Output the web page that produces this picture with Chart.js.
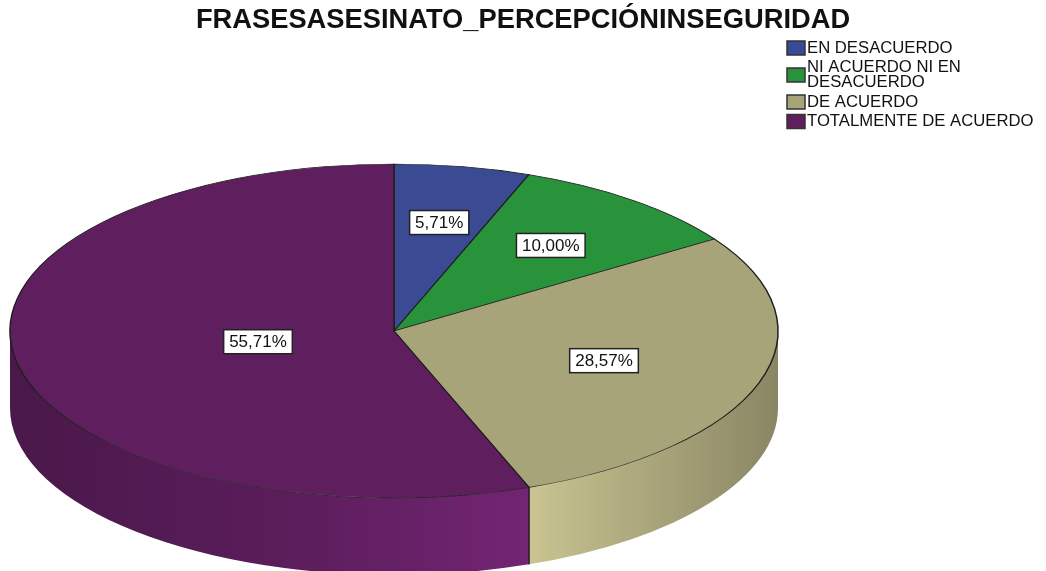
<!DOCTYPE html>
<html>
<head>
<meta charset="utf-8">
<script src="https://cdn.jsdelivr.net/npm/chart.js@4/dist/chart.umd.min.js"></script>
<style>
  html, body { margin: 0; padding: 0; background: #fff; }
  #wrap { width: 1046px; height: 571px; }
</style>
</head>
<body>
<div id="wrap"><canvas id="chart" width="1046" height="571"></canvas></div>
<script>
const TITLE = "FRASESASESINATO_PERCEPCIÓNINSEGURIDAD";
const CATEGORIES = ["EN DESACUERDO", "NI ACUERDO NI EN DESACUERDO", "DE ACUERDO", "TOTALMENTE DE ACUERDO"];
const PERCENTS = [5.71, 10.00, 28.57, 55.71];
const COLORS = ["#3a4b93", "#28933a", "#a8a47a", "#5f1f5f"];

// pie look: ellipse centre, squash, thickness, where labels sit (share of radius)
const PIE = { cx: 394, cy: 331, ry: 167, depth: 77, labelAt: [0.66, 0.655, 0.575, 0.36] };
const FONT = '"Liberation Sans", Arial, sans-serif';

function shade(hex, f) {
  const n = parseInt(hex.slice(1), 16);
  const c = [n >> 16, (n >> 8) & 255, n & 255].map(v => Math.max(0, Math.min(255, Math.round(v * f))));
  return `rgb(${c.join(",")})`;
}

// draws the side wall, squashes the top face, then puts the % boxes on
const pie3d = {
  id: "pie3d",
  beforeDatasetsDraw(chart) {
    const ctx = chart.ctx;
    const arcs = chart.getDatasetMeta(0).data;
    const R = arcs[0].outerRadius;
    const { cx, cy, ry, depth } = PIE;

    arcs.forEach((arc, i) => {
      const s = Math.max(arc.startAngle, 0);
      const e = Math.min(arc.endAngle, Math.PI);
      if (e <= s) return;
      const g = ctx.createLinearGradient(cx - R, 0, cx + R, 0);
      g.addColorStop(0, shade(COLORS[i], 0.78));
      g.addColorStop(0.35, shade(COLORS[i], 0.95));
      g.addColorStop(0.67, shade(COLORS[i], 1.2));
      g.addColorStop(1, shade(COLORS[i], 0.82));
      ctx.beginPath();
      ctx.ellipse(cx, cy, R, ry, 0, s, e);
      ctx.ellipse(cx, cy + depth, R, ry, 0, e, s, true);
      ctx.closePath();
      ctx.fillStyle = g;
      ctx.fill();
      // dark edge down the wall where two slices meet
      ctx.lineWidth = 1.2;
      ctx.strokeStyle = "rgba(15,15,15,0.85)";
      [s, e].filter(a => a > 0.01 && a < Math.PI - 0.01).forEach(a => {
        const x = cx + Math.cos(a) * R;
        const y = cy + Math.sin(a) * ry;
        ctx.beginPath();
        ctx.moveTo(x, y);
        ctx.lineTo(x, y + depth);
        ctx.stroke();
      });
    });

    ctx.save();
    ctx.translate(cx, cy);
    ctx.scale(1, ry / R);
    ctx.translate(-arcs[0].x, -arcs[0].y);
  },
  afterDatasetsDraw(chart) {
    const ctx = chart.ctx;
    ctx.restore();
    const arcs = chart.getDatasetMeta(0).data;
    const R = arcs[0].outerRadius;
    const { cx, cy, ry, labelAt } = PIE;

    ctx.save();
    ctx.font = "17px " + FONT;
    ctx.textAlign = "center";
    ctx.textBaseline = "middle";
    arcs.forEach((arc, i) => {
      const mid = (arc.startAngle + arc.endAngle) / 2;
      const r = labelAt[i];
      const x = cx + Math.cos(mid) * r * R;
      const y = cy + Math.sin(mid) * r * ry;
      const txt = PERCENTS[i].toFixed(2).replace(".", ",") + "%";
      const w = ctx.measureText(txt).width + 11;
      const h = 24;
      ctx.fillStyle = "#fff";
      ctx.fillRect(x - w / 2, y - h / 2, w, h);
      ctx.lineWidth = 1.5;
      ctx.strokeStyle = "#222";
      ctx.strokeRect(x - w / 2, y - h / 2, w, h);
      ctx.fillStyle = "#111";
      ctx.fillText(txt, x, y + 1);
    });
    ctx.restore();
  },
  afterDraw(chart) {
    // legend, top right
    const ctx = chart.ctx;
    ctx.save();
    ctx.font = "16.7px " + FONT;
    ctx.textBaseline = "middle";
    ctx.textAlign = "left";
    const maxW = chart.width - 807 - 4;
    const lh = 15;
    let y = 48;
    CATEGORIES.forEach((cat, i) => {
      const lines = [];
      let cur = "";
      cat.split(" ").forEach(word => {
        const t = cur ? cur + " " + word : word;
        if (ctx.measureText(t).width > maxW && cur) { lines.push(cur); cur = word; }
        else cur = t;
      });
      lines.push(cur);
      const mid = y + (lines.length - 1) * lh / 2;
      ctx.fillStyle = COLORS[i];
      ctx.fillRect(787, mid - 7, 18, 14);
      ctx.lineWidth = 1.5;
      ctx.strokeStyle = "#333";
      ctx.strokeRect(787, mid - 7, 18, 14);
      ctx.fillStyle = "#111";
      lines.forEach((ln, k) => ctx.fillText(ln, 807, y + k * lh));
      y += (lines.length - 1) * lh + 19.5;
    });
    ctx.restore();
  }
};

new Chart(document.getElementById("chart"), {
  type: "pie",
  data: {
    labels: CATEGORIES,
    datasets: [{
      data: PERCENTS,
      backgroundColor: COLORS,
      borderColor: "#1e1e1e",
      borderWidth: 1.5,
      clip: false
    }]
  },
  options: {
    responsive: false,
    animation: false,
    events: [],
    radius: 384,
    layout: { padding: 0 },
    plugins: {
      legend: { display: false },
      tooltip: { enabled: false },
      title: {
        display: true,
        text: TITLE,
        color: "#111",
        font: { family: FONT, size: 27.3, weight: "bold" },
        padding: { top: 4, bottom: 0 }
      }
    }
  },
  plugins: [pie3d]
});
</script>
</body>
</html>
